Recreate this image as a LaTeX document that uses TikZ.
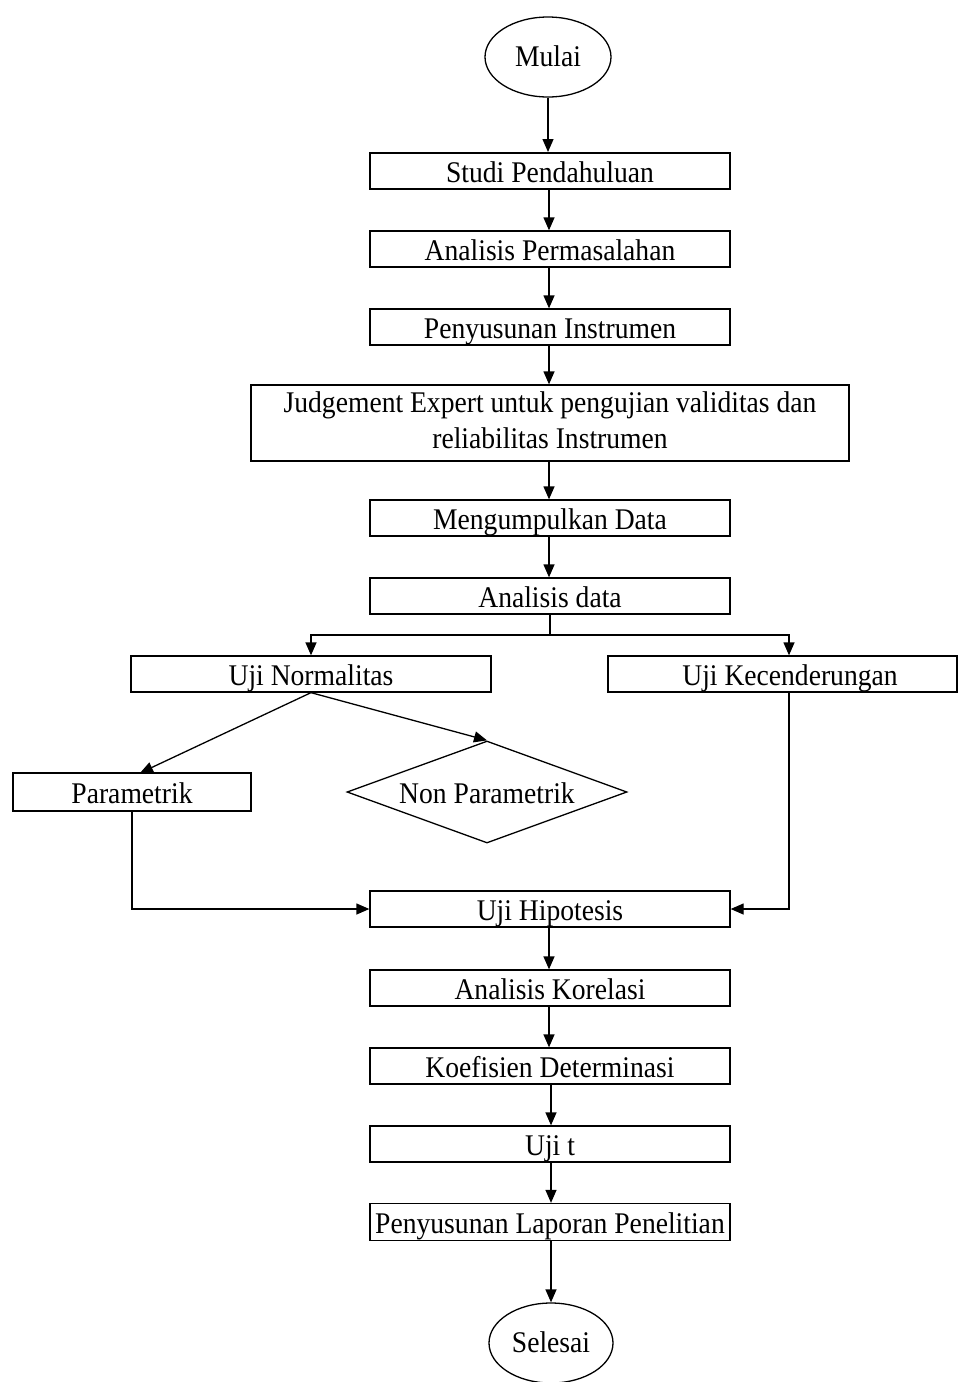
\documentclass[tikz,border=0pt]{standalone}
\usepackage{fontspec}
\setmainfont[FakeStretch=0.92]{Liberation Serif}
\usetikzlibrary{shapes.geometric,arrows.meta}
\begin{document}
\begin{tikzpicture}[x=1pt,y=-1pt,
  every node/.style={font=\fontsize{30}{36}\selectfont},
  box/.style={draw,line width=1.3pt,minimum height=36pt,inner sep=0pt,align=center,text height=22pt,text depth=0pt},
  term/.style={draw,ellipse,line width=1.3pt,minimum width=126pt,minimum height=80pt,inner sep=0pt,text height=18pt,text depth=0pt},
  dec/.style={draw,diamond,line width=1.3pt,aspect=2.75,minimum width=280pt,minimum height=102pt,inner sep=0pt,text height=22pt,text depth=0pt},
  arr/.style={line width=1.3pt,-{Triangle[length=13pt,width=11pt]}},
  ln/.style={line width=1.3pt}]
\useasboundingbox (0,0) rectangle (958,1382);
\node[term] (mulai) at (548,57) {Mulai};
\node[box,minimum width=360pt] (studi) at (550,171) {Studi Pendahuluan};
\node[box,minimum width=360pt] (anper) at (550,249) {Analisis Permasalahan};
\node[box,minimum width=360pt] (penin) at (550,327) {Penyusunan Instrumen};
\node[draw,line width=1.3pt,inner sep=0pt,align=center,minimum width=598pt,minimum height=76pt] (judge) at (550,423) {Judgement Expert untuk pengujian validitas dan\\reliabilitas Instrumen\rule[-6pt]{0pt}{6pt}};
\node[box,minimum width=360pt] (kumpul) at (550,518) {Mengumpulkan Data};
\node[box,minimum width=360pt] (andat) at (550,596) {Analisis data};
\node[box,minimum width=360pt] (norm) at (311,674) {Uji Normalitas};
\node[box,minimum width=349pt] (kecen) at (782.5,674) {\hspace*{15pt}Uji Kecenderungan};
\node[box,minimum width=238pt,minimum height=38pt] (param) at (132,792) {Parametrik};
\node[dec] (nonpar) at (487,792) {Non Parametrik};
\node[box,minimum width=360pt] (hipo) at (550,909) {Uji Hipotesis};
\node[box,minimum width=360pt] (korel) at (550,988) {Analisis Korelasi};
\node[box,minimum width=360pt] (koef) at (550,1066) {Koefisien Determinasi};
\node[box,minimum width=360pt] (ujit) at (550,1144) {Uji t};
\node[box,minimum width=360pt,minimum height=37pt] (lapor) at (550,1222) {Penyusunan Laporan Penelitian};
\node[term,minimum width=124pt] (selesai) at (551,1343) {Selesai};
\coordinate (split) at (550,635);
\draw[arr] (mulai.south) -- (548,152);
\draw[arr] (studi.south -| 549,0) -- (anper.north -| 549,0);
\draw[arr] (anper.south -| 549,0) -- (penin.north -| 549,0);
\draw[arr] (penin.south -| 549,0) -- (judge.north -| 549,0);
\draw[arr] (judge.south -| 549,0) -- (kumpul.north -| 549,0);
\draw[arr] (kumpul.south -| 549,0) -- (andat.north -| 549,0);
\draw[ln] (andat.south) -- (split);
\draw[arr] (split) -| (norm.north);
\draw[arr] (split) -| (kecen.north -| 789,0);
\draw[arr] (norm.south) -- (140,773);
\draw[arr] (norm.south) -- (nonpar.north);
\draw[arr] (param.south) |- (hipo.west);
\draw[arr] (kecen.south -| 789,0) |- (hipo.east);
\draw[arr] (hipo.south -| 549,0) -- (korel.north -| 549,0);
\draw[arr] (korel.south -| 549,0) -- (koef.north -| 549,0);
\draw[arr] (koef.south -| 551,0) -- (ujit.north -| 551,0);
\draw[arr] (ujit.south -| 551,0) -- (lapor.north -| 551,0);
\draw[arr] (lapor.south -| 551,0) -- (selesai.north);
\end{tikzpicture}
\end{document}
